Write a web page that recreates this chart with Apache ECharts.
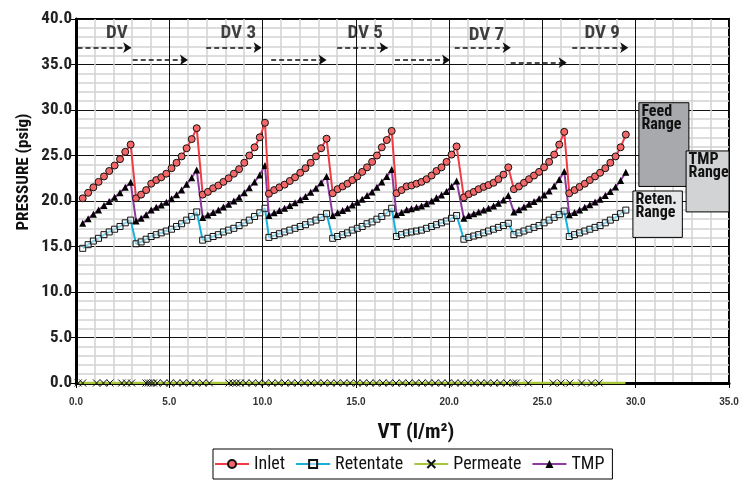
<!DOCTYPE html>
<html><head><meta charset="utf-8">
<script src="https://cdn.jsdelivr.net/npm/echarts@6/dist/echarts.min.js"></script>
<style>html,body{margin:0;padding:0;background:#fff}#c{width:752px;height:480px}</style>
</head><body><div id="c"></div>
<script>
// ---------- data ----------
const vt = [
  0.36, 0.65, 0.93, 1.21, 1.50, 1.78, 2.07, 2.36, 2.64, 2.93,
  3.22, 3.49, 3.76, 4.03, 4.30, 4.57, 4.84, 5.12, 5.39, 5.66, 5.93, 6.20, 6.47,
  6.79, 7.07, 7.35, 7.63, 7.90, 8.18, 8.46, 8.74, 9.02, 9.29, 9.57, 9.85, 10.13,
  10.34, 10.62, 10.90, 11.18, 11.46, 11.74, 12.02, 12.30, 12.58, 12.86, 13.14, 13.43,
  13.76, 14.02, 14.29, 14.55, 14.81, 15.08, 15.34, 15.60, 15.87, 16.13, 16.39, 16.66, 16.92,
  17.18, 17.45, 17.72, 17.98, 18.25, 18.52, 18.79, 19.06, 19.32, 19.59, 19.86, 20.13, 20.40,
  20.79, 21.05, 21.32, 21.58, 21.85, 22.11, 22.38, 22.64, 22.91, 23.17,
  23.47, 23.74, 24.01, 24.28, 24.55, 24.82, 25.09, 25.36, 25.63, 25.90, 26.17,
  26.44, 26.72, 26.99, 27.27, 27.54, 27.82, 28.09, 28.37, 28.64, 28.92, 29.19, 29.47
];
const inlet = [
  20.3, 20.9, 21.5, 22.1, 22.7, 23.3, 23.9, 24.6, 25.4, 26.2,
  20.3, 20.7, 21.2, 21.9, 22.3, 22.6, 23.0, 23.6, 24.2, 24.9, 25.8, 26.8, 28.0,
  20.7, 21.0, 21.4, 21.7, 22.1, 22.5, 23.0, 23.5, 24.2, 25.0, 25.9, 27.0, 28.6,
  20.8, 21.2, 21.5, 21.8, 22.2, 22.6, 23.1, 23.6, 24.2, 24.9, 25.8, 26.85,
  20.85, 21.3, 21.6, 21.9, 22.3, 22.7, 23.2, 23.7, 24.3, 25.0, 25.9, 26.7, 27.7,
  20.85, 21.2, 21.6, 21.7, 21.9, 22.1, 22.4, 22.8, 23.3, 23.7, 24.3, 25.1, 26.0,
  20.4, 20.75, 21.0, 21.3, 21.55, 21.75, 22.0, 22.4, 22.9, 23.7,
  21.3, 21.6, 22.0, 22.4, 22.8, 23.2, 23.7, 24.3, 25.1, 26.2, 27.6,
  20.85, 21.2, 21.55, 21.9, 22.3, 22.7, 23.1, 23.6, 24.2, 24.9, 25.9, 27.3
];
const retentate = [
  14.8, 15.2, 15.6, 15.9, 16.3, 16.6, 16.9, 17.2, 17.6, 17.9,
  15.3, 15.5, 15.8, 16.1, 16.3, 16.5, 16.7, 16.9, 17.2, 17.5, 17.9, 18.3, 18.8,
  15.7, 15.9, 16.1, 16.3, 16.6, 16.8, 17.0, 17.3, 17.6, 17.9, 18.3, 18.7, 19.2,
  16.0, 16.2, 16.4, 16.6, 16.8, 17.0, 17.2, 17.4, 17.7, 17.9, 18.2, 18.6,
  15.9, 16.1, 16.3, 16.5, 16.8, 17.0, 17.2, 17.5, 17.7, 18.0, 18.3, 18.7, 19.2,
  16.1, 16.3, 16.5, 16.6, 16.7, 16.8, 17.0, 17.2, 17.4, 17.6, 17.8, 18.1, 18.4,
  15.8, 16.0, 16.15, 16.3, 16.5, 16.7, 16.9, 17.1, 17.3, 17.55,
  16.3, 16.5, 16.7, 16.9, 17.1, 17.3, 17.6, 17.9, 18.2, 18.5, 18.9,
  16.1, 16.3, 16.5, 16.7, 16.9, 17.1, 17.3, 17.6, 17.9, 18.2, 18.6, 19.0
];
const tmp = [
  17.55, 18.05, 18.55, 19.0, 19.5, 19.95, 20.4, 20.9, 21.5, 22.05,
  17.8, 18.1, 18.5, 19.0, 19.3, 19.55, 19.85, 20.25, 20.7, 21.2, 21.85, 22.55, 23.4,
  18.2, 18.45, 18.75, 19.0, 19.35, 19.65, 20.0, 20.4, 20.9, 21.45, 22.1, 22.85, 23.9,
  18.4, 18.7, 18.95, 19.2, 19.5, 19.8, 20.15, 20.5, 20.95, 21.4, 22.0, 22.7,
  18.4, 18.7, 18.95, 19.2, 19.55, 19.85, 20.2, 20.6, 21.0, 21.5, 22.1, 22.7, 23.45,
  18.5, 18.75, 19.05, 19.15, 19.3, 19.45, 19.7, 20.0, 20.35, 20.65, 21.05, 21.6, 22.2,
  18.1, 18.4, 18.6, 18.8, 19.0, 19.2, 19.45, 19.75, 20.1, 20.6,
  18.8, 19.05, 19.35, 19.65, 19.95, 20.25, 20.65, 21.1, 21.65, 22.35, 23.25,
  18.5, 18.75, 19.0, 19.3, 19.6, 19.9, 20.2, 20.6, 21.05, 21.55, 22.25, 23.15
];
const permeateVT = [
  0.12, 0.36, 1.10, 1.47, 1.82, 2.45, 2.71, 2.98,
  3.75, 3.88, 4.00, 4.15, 4.35, 4.70, 5.05, 5.40, 5.75, 6.10, 6.45, 6.80, 7.15,
  8.20, 8.40, 8.60, 8.80, 9.10, 9.45, 9.80, 10.15, 10.50, 10.85, 11.20, 11.55, 11.90,
  12.25, 12.60, 12.95, 13.30, 13.65, 14.00, 14.35, 14.70, 15.05, 15.40, 15.75, 16.10,
  16.45, 16.80, 17.15, 17.50, 17.85, 18.20, 18.55, 18.90, 19.25, 19.60, 19.95, 20.30,
  20.65, 21.00, 21.35, 21.70, 22.05, 22.40, 22.75, 23.10, 23.45, 23.60,
  24.24, 25.58, 26.00, 26.47, 27.10, 27.63, 28.04, 29.45
];
const permeate = [
  0, 0, 0, 0, 0, 0, 0, 0,
  0, 0, 0, 0, 0, 0, 0, 0, 0, 0, 0, 0, 0,
  0, 0, 0, 0, 0, 0, 0, 0, 0, 0, 0, 0, 0,
  0, 0, 0, 0, 0, 0, 0, 0, 0, 0, 0, 0,
  0, 0, 0, 0, 0, 0, 0, 0, 0, 0, 0, 0,
  0, 0, 0, 0, 0, 0, 0, 0, 0, 0,
  0, 0, 0, 0, 0, 0, 0, 0
];
const seriesNames = ['Inlet', 'Retentate', 'Permeate', 'TMP'];
const dvLabels = ['DV', 'DV 3', 'DV 5', 'DV 7', 'DV 9'];
const dvLabelVT = [2.19, 8.7, 15.5, 22.0, 28.2];
const dvLabelP = [38.46, 38.46, 38.46, 38.24, 38.46];
const dvArrowFrom = [0.08, 3.04, 6.98, 10.46, 14.0, 17.1, 20.3, 23.3, 26.6];
const dvArrowTo   = [2.96, 6.0, 9.95, 13.43, 16.7, 20.05, 23.3, 26.3, 29.6];
const dvArrowP    = [36.85, 35.5, 36.85, 35.5, 36.85, 35.5, 36.85, 35.2, 36.85];
const rangeNames = ['Feed\nRange', 'TMP\nRange', 'Reten.\nRange'];
const rangeVTFrom = [30.17, 32.7, 29.85];
const rangeVTTo   = [32.85, 35.2, 32.5];
const rangePTop   = [30.8, 25.5, 21.1];
const rangePBot   = [21.6, 18.8, 16.0];
const xAxisTitle = 'VT (l/m²)';
const yAxisTitle = 'PRESSURE (psig)';

// ---------- chart ----------
const NARROW = '"Roboto Condensed", "Liberation Sans", Arial, sans-serif';
const WIDE = '"Liberation Sans", Arial, sans-serif';
const rangeFills = ['#a7a9ac', '#d1d3d4', '#e6e7e8'];

const chart = echarts.init(document.getElementById('c'), null, {renderer: 'canvas'});
const pair = (xs, ys) => xs.map((x, i) => [x, ys[i]]);

const option = {
  animation: false,
  backgroundColor: '#fff',
  grid: {left: 76, right: 23, top: 19, bottom: 97, show: true, borderColor: '#000', borderWidth: 2, backgroundColor: 'transparent'},
  xAxis: {
    type: 'value', min: 0, max: 35, interval: 5,
    axisLine: {show: true, onZero: false, lineStyle: {color: '#000', width: 3}},
    axisTick: {show: true, length: 5, lineStyle: {color: '#000', width: 1}},
    axisLabel: {fontFamily: WIDE, fontWeight: 'bold', fontSize: 10, color: '#333', margin: 14, formatter: v => v.toFixed(1)},
    splitLine: {show: true, lineStyle: {color: '#111', width: 1}},
    minorTick: {show: true, splitNumber: 5, length: 0},
    minorSplitLine: {show: true, lineStyle: {color: '#d2d2d2', width: 1.5}}
  },
  yAxis: {
    type: 'value', min: 0, max: 40, interval: 5,
    axisLine: {show: true, lineStyle: {color: '#000', width: 3}},
    axisTick: {show: true, length: 5, lineStyle: {color: '#000', width: 1}},
    axisLabel: {fontFamily: NARROW, fontWeight: 'bold', fontSize: 17, color: '#222', margin: 4, formatter: v => v.toFixed(1)},
    splitLine: {show: true, lineStyle: {color: '#111', width: 1}},
    minorTick: {show: true, splitNumber: 5, length: 0},
    minorSplitLine: {show: true, lineStyle: {color: '#d2d2d2', width: 1.5}}
  },
  legend: {
    data: seriesNames, left: 213, top: 449, orient: 'horizontal',
    itemWidth: 34, itemHeight: 10, itemGap: 10, padding: [6, 8, 6, 1],
    borderColor: '#000', borderWidth: 1,
    textStyle: {fontFamily: NARROW, fontSize: 18, color: '#111'}
  },
  graphic: [
    {type: 'text', x: 24, y: 172, rotation: Math.PI / 2,
     style: {text: yAxisTitle, font: 'bold 17px ' + NARROW, fill: '#111', textAlign: 'center', textVerticalAlign: 'middle'}},
    {type: 'text', x: 416, y: 433,
     style: {text: xAxisTitle, font: 'bold 21px ' + NARROW, fill: '#111', textAlign: 'center', textVerticalAlign: 'middle'}}
  ],
  series: [
    {
      name: 'Permeate', type: 'line', z: 3,
      data: pair(permeateVT, permeate).map((d, i, a) => i === a.length - 1 ? {value: d, symbol: 'none'} : d),
      symbol: 'path://M0,0L10,10M10,0L0,10', symbolSize: 7,
      lineStyle: {color: '#a8c63c', width: 2.5},
      itemStyle: {color: 'rgba(0,0,0,0)', borderColor: '#111', borderWidth: 1}
    },
    {
      name: 'Retentate', type: 'line', z: 4,
      data: pair(vt, retentate),
      symbol: 'rect', symbolSize: 6,
      lineStyle: {color: '#16b1dc', width: 2},
      itemStyle: {color: 'rgba(255,255,255,0.5)', borderColor: '#111', borderWidth: 1}
    },
    {
      name: 'TMP', type: 'line', z: 5,
      data: pair(vt, tmp),
      symbol: 'triangle', symbolSize: 7,
      lineStyle: {color: '#8b3a9e', width: 2},
      itemStyle: {color: '#000', borderColor: '#000', borderWidth: 0}
    },
    {
      name: 'Inlet', type: 'line', z: 6,
      data: pair(vt, inlet),
      symbol: 'circle', symbolSize: 7,
      lineStyle: {color: '#ee3b44', width: 2},
      itemStyle: {color: '#f26868', borderColor: '#111', borderWidth: 1}
    },
    {
      name: 'annotations', type: 'scatter', z: 7, clip: false, silent: true,
      symbolSize: 0,
      data: dvLabels.map((t, i) => ({name: t, value: [dvLabelVT[i], dvLabelP[i]]})),
      label: {show: true, position: 'inside', formatter: p => p.name, fontFamily: NARROW, fontWeight: 'bold', fontSize: 19, color: '#111'},
      markLine: {
        silent: true, symbol: ['none', 'arrow'], symbolSize: 8,
        label: {show: false},
        lineStyle: {color: '#111', width: 1.5, type: [5, 3]},
        data: dvArrowFrom.map((x0, i) => [{coord: [x0, dvArrowP[i]]}, {coord: [dvArrowTo[i], dvArrowP[i]]}])
      },
      markArea: {
        silent: true,
        data: rangeNames.map((t, i) => [
          {coord: [rangeVTFrom[i], rangePTop[i]], name: t,
           itemStyle: {color: rangeFills[i], borderColor: '#000', borderWidth: 1},
           label: {show: true, position: 'insideTopLeft', distance: 3, formatter: t, fontFamily: NARROW, fontWeight: 'bold', fontSize: 16, lineHeight: 13, color: '#111'}},
          {coord: [rangeVTTo[i], rangePBot[i]]}
        ])
      }
    }
  ]
};
chart.setOption(option);
</script></body></html>
